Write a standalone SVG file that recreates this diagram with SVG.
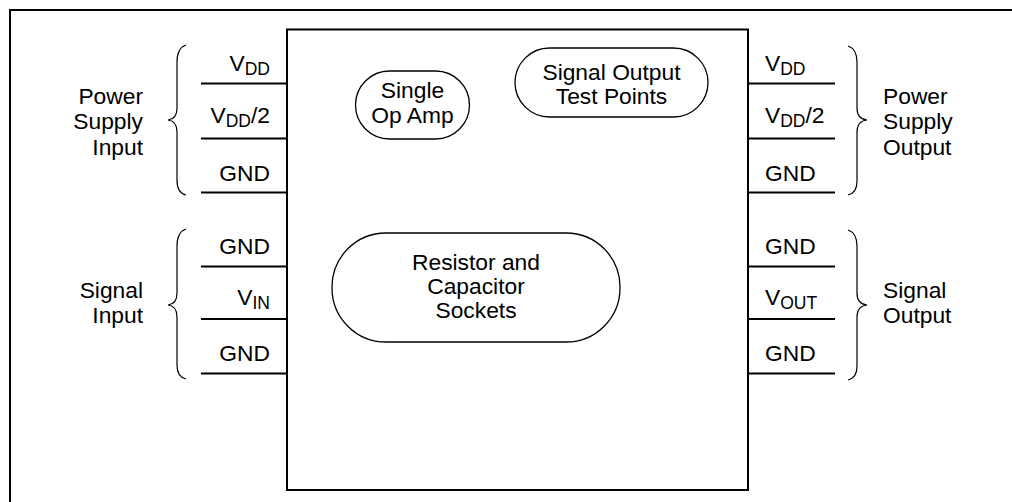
<svg xmlns="http://www.w3.org/2000/svg" width="1012" height="502" viewBox="0 0 1012 502">
<style>
.t{font-family:"Liberation Sans",Arial,sans-serif;font-size:22.8px;fill:#000}
.s{font-size:17.5px}
.pin{stroke:#000;stroke-width:2;fill:none}
.br{stroke:#000;stroke-width:1.2;fill:none}
.ov{stroke:#000;stroke-width:1.3;fill:#fff}
</style>
<rect width="1012" height="502" fill="#fff"/>
<path d="M10,502 V10 H1012" fill="none" stroke="#000" stroke-width="2"/>
<g id="board">
<rect x="287" y="29.5" width="461" height="460.5" fill="none" stroke="#000" stroke-width="2"/>
</g>
<g id="connectors">
<path class="pin" d="M201,83.5H287M201,138.5H287M201,192.5H287M201,266.5H287M201,319H287M201,373.5H287"/>
<path class="pin" d="M748,83.5H835M748,138.5H835M748,192.5H835M748,266.5H835M748,319H835M748,373.5H835"/>
<path class="br" d="M186,45 Q177,48 177,62 L177,108 Q177,119 168,120 Q177,121 177,132 L177,180 Q177,193 186,195"/>
<path class="br" d="M186,229 Q177,232 177,246 L177,293 Q177,304 168,305 Q177,306 177,317 L177,365 Q177,377 186,379"/>
<path class="br" d="M848,46 Q857,49 857,62 L857,108 Q857,119 867,120 Q857,121 857,132 L857,181 Q857,193 848,195"/>
<path class="br" d="M848,230 Q857,233 857,246 L857,293 Q857,304 867,305 Q857,306 857,317 L857,366 Q857,378 848,380"/>
</g>
<g id="power-input-label" class="t" text-anchor="end">
<text x="143" y="104">Power</text>
<text x="143" y="129">Supply</text>
<text x="143" y="155">Input</text>
</g>
<g id="signal-input-label" class="t" text-anchor="end">
<text x="143" y="298">Signal</text>
<text x="143" y="323">Input</text>
</g>
<g id="power-output-label" class="t">
<text x="883" y="104">Power</text>
<text x="883" y="129">Supply</text>
<text x="883" y="155">Output</text>
</g>
<g id="signal-output-label" class="t">
<text x="883" y="298">Signal</text>
<text x="883" y="323">Output</text>
</g>
<g id="left-pins" class="t" text-anchor="end">
<text x="270" y="71">V<tspan class="s" dy="4">DD</tspan></text>
<text x="270" y="123">V<tspan class="s" dy="4">DD</tspan><tspan dy="-4">/2</tspan></text>
<text x="270" y="181">GND</text>
<text x="270" y="254">GND</text>
<text x="270" y="305">V<tspan class="s" dy="4">IN</tspan></text>
<text x="270" y="361">GND</text>
</g>
<g id="right-pins" class="t">
<text x="765" y="71">V<tspan class="s" dy="4">DD</tspan></text>
<text x="765" y="123">V<tspan class="s" dy="4">DD</tspan><tspan dy="-4">/2</tspan></text>
<text x="765" y="181">GND</text>
<text x="765" y="254">GND</text>
<text x="765" y="305">V<tspan class="s" dy="4">OUT</tspan></text>
<text x="765" y="361">GND</text>
</g>
<g id="op-amp">
<rect class="ov" x="355.5" y="71" width="114" height="68" rx="34" ry="34"/>
<text class="t" x="412.5" y="98" text-anchor="middle">Single</text>
<text class="t" x="412.5" y="123" text-anchor="middle">Op Amp</text>
</g>
<g id="test-points">
<rect class="ov" x="515" y="48" width="193" height="69" rx="34.5" ry="34.5"/>
<text class="t" x="611.5" y="80" text-anchor="middle">Signal Output</text>
<text class="t" x="611.5" y="104" text-anchor="middle">Test Points</text>
</g>
<g id="sockets">
<rect class="ov" x="332" y="233" width="288" height="109" rx="54" ry="54"/>
<text class="t" x="476" y="270" text-anchor="middle">Resistor and</text>
<text class="t" x="476" y="294" text-anchor="middle">Capacitor</text>
<text class="t" x="476" y="318" text-anchor="middle">Sockets</text>
</g>
</svg>
